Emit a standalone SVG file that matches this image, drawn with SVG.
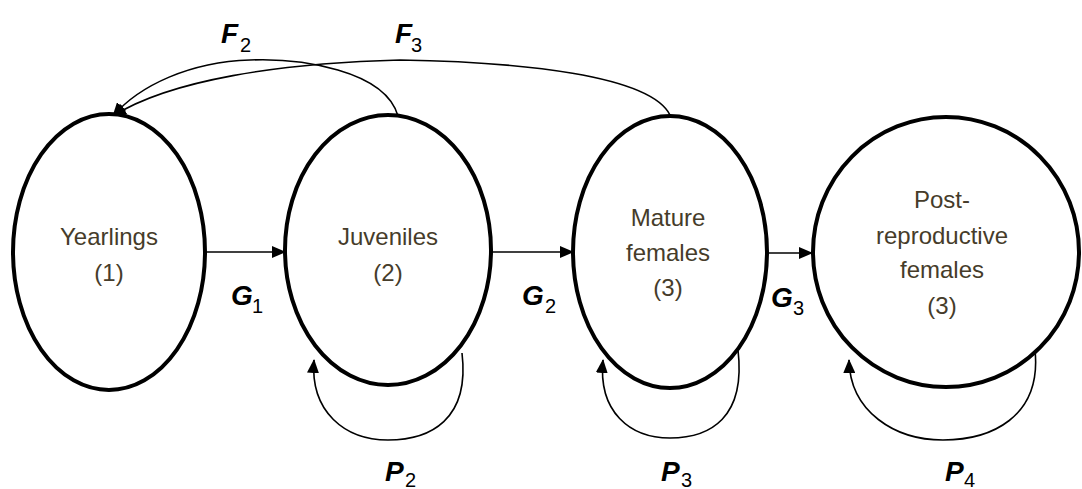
<svg xmlns="http://www.w3.org/2000/svg" width="1082" height="489" viewBox="0 0 1082 489">
<defs>
<marker id="ah" markerUnits="userSpaceOnUse" markerWidth="14" markerHeight="12" refX="13" refY="6" orient="auto">
<path d="M0,0 L14,6 L0,12 Z" fill="#000"/>
</marker>
<style>
.node{fill:#fff;stroke:#000;stroke-width:4}
.lbl{font-family:"Liberation Sans",Arial,sans-serif;font-size:24px;fill:#463c2a;text-anchor:middle}
.conn{fill:none;stroke:#000;stroke-width:1.6}
.sym{font-family:"Liberation Sans",Arial,sans-serif;font-size:28px;font-weight:bold;font-style:italic;fill:#000}
.sub{font-family:"Liberation Sans",Arial,sans-serif;font-size:20px;fill:#000}
</style>
</defs>
<rect width="1082" height="489" fill="#fff"/>
<g id="connectors">
<path class="conn" d="M205,252 L285,252" marker-end="url(#ah)"/>
<path class="conn" d="M492,252 L573,252" marker-end="url(#ah)"/>
<path class="conn" d="M767,253 L812,253" marker-end="url(#ah)"/>
<path class="conn" d="M398,116 C385,70 300,58 250,60 C190,62 140,85 113,116" marker-end="url(#ah)"/>
<path class="conn" d="M670,115 C650,75 520,62 400,60 C280,63 170,80 113,116" marker-end="url(#ah)"/>
<path class="conn" d="M462,353 C470,420 430,440 388,440 C345,440 310,412 314,360" marker-end="url(#ah)"/>
<path class="conn" d="M738,350 C746,418 710,438 670,438 C630,438 598,412 603,360" marker-end="url(#ah)"/>
<path class="conn" d="M1035,350 C1042,418 990,440 943,440 C895,440 850,412 849,360" marker-end="url(#ah)"/>
</g>
<g id="yearlings">
<ellipse class="node" cx="109" cy="252" rx="96" ry="138"/>
<text class="lbl" x="109" y="245">Yearlings</text>
<text class="lbl" x="109" y="281">(1)</text>
</g>
<g id="juveniles">
<ellipse class="node" cx="388" cy="250" rx="103" ry="135"/>
<text class="lbl" x="388" y="245">Juveniles</text>
<text class="lbl" x="388" y="281">(2)</text>
</g>
<g id="mature">
<ellipse class="node" cx="670" cy="252" rx="97" ry="136"/>
<text class="lbl" x="668" y="226">Mature</text>
<text class="lbl" x="668" y="261">females</text>
<text class="lbl" x="668" y="296">(3)</text>
</g>
<g id="postrepro">
<ellipse class="node" cx="946" cy="252" rx="133" ry="135"/>
<text class="lbl" x="942" y="208">Post-</text>
<text class="lbl" x="942" y="244">reproductive</text>
<text class="lbl" x="942" y="278">females</text>
<text class="lbl" x="942" y="314">(3)</text>
</g>
<g id="labels">
<text class="sym" x="221" y="43">F</text><text class="sub" x="240" y="52">2</text>
<text class="sym" x="395" y="43">F</text><text class="sub" x="411" y="52">3</text>
<text class="sym" x="231" y="305">G</text><text class="sub" x="252" y="313">1</text>
<text class="sym" x="522" y="305">G</text><text class="sub" x="545" y="313">2</text>
<text class="sym" x="771" y="307">G</text><text class="sub" x="793" y="315">3</text>
<text class="sym" x="385" y="481">P</text><text class="sub" x="405" y="487">2</text>
<text class="sym" x="661" y="481">P</text><text class="sub" x="681" y="487">3</text>
<text class="sym" x="945" y="481">P</text><text class="sub" x="964" y="487">4</text>
</g>
</svg>
